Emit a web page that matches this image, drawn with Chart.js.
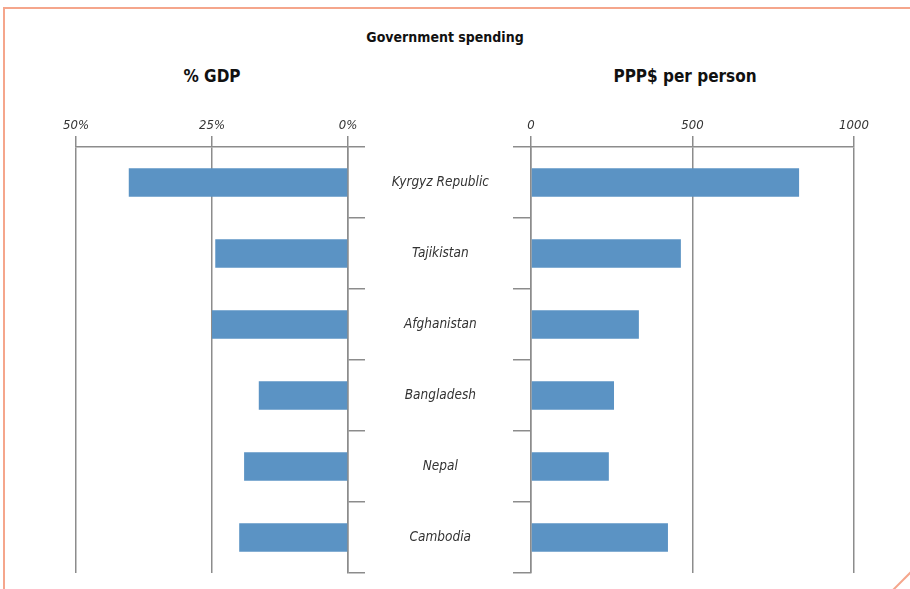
<!DOCTYPE html>
<html>
<head>
<meta charset="utf-8">
<script src="https://cdn.jsdelivr.net/npm/chart.js@4"></script>
<style>
  body { margin: 0; background: #fff; width: 910px; height: 589px; overflow: hidden; position: relative; }
  .frame { position: absolute; left: 3px; top: 7px; width: 920px; height: 600px;
           border-left: 2px solid #f5a68c; border-top: 2px solid #f5a68c; }
  .corner { position: absolute; left: 889px; top: 580px; width: 26px; height: 2px;
            background: #f5a68c; transform: rotate(-45deg); }
  .title { position: absolute; font-family: "DejaVu Sans Condensed", "DejaVu Sans", sans-serif;
           font-weight: bold; color: #111; transform: translateX(-50%); white-space: nowrap; }
  canvas { position: absolute; top: 0; }
</style>
</head>
<body>
<div class="frame"></div>
<div class="corner"></div>
<div class="title" style="left:445px; top:29px; font-size:14px;">Government spending</div>
<div class="title" style="left:212px; top:66px; font-size:17px;">% GDP</div>
<div class="title" style="left:685px; top:66px; font-size:17px;">PPP$ per person</div>
<div style="position:absolute; left:0; top:0; width:400px; height:589px;"><canvas id="gdpChart"></canvas></div>
<div style="position:absolute; left:370px; top:0; width:540px; height:589px;"><canvas id="pppChart"></canvas></div>
<script>
/* ========== DATA ========== */
const countries = ["Kyrgyz Republic", "Tajikistan", "Afghanistan", "Bangladesh", "Nepal", "Cambodia"];
const gdpShare = [40.3, 24.4, 25.0, 16.4, 19.1, 20.0];        // % of GDP
const pppPerPerson = [830, 464, 334, 257, 241, 424];          // PPP$ per person
const gdpTicks = [0, 25, 50];
const pppTicks = [0, 500, 1000];

const FONT = "'DejaVu Sans Condensed', 'DejaVu Sans', sans-serif";
const GRID = "#8c8c8c";
const BAR = "#5b93c4";

/* ====== LEFT: % GDP (reversed) ====== */
new Chart(document.getElementById("gdpChart"), {
    type: "bar",
    data: {
        labels: countries,
        datasets: [{ data: gdpShare, backgroundColor: BAR, barPercentage: 0.4, categoryPercentage: 1 }]
    },
    options: {
        indexAxis: "y",
        responsive: true,
        maintainAspectRatio: false,
        animation: false,
        layout: { padding: { left: 76, right: 35, top: 0, bottom: 16 } },
        plugins: { legend: { display: false }, tooltip: { enabled: false } },
        scales: {
            x: {
                position: "top",
                reverse: true,
                min: 0, max: 50,
                afterBuildTicks: s => { s.ticks = gdpTicks.map(v => ({ value: v })); },
                afterFit: s => { s.height = 147; },
                ticks: { callback: v => v + "%", color: "#333", padding: 3,
                         font: { family: FONT, size: 13, style: "italic" } },
                grid: { color: GRID, lineWidth: 1.5, tickLength: 11 },
                border: { color: GRID, width: 1.5 }
            },
            y: {
                position: "right",
                afterFit: s => { s.paddingTop = 0; s.paddingBottom = 0; },
                ticks: { display: false },
                grid: { drawOnChartArea: false, color: GRID, lineWidth: 1.5, tickLength: 17 },
                border: { color: GRID, width: 1.5 }
            }
        }
    }
});

/* ====== RIGHT: PPP$ per person ====== */
new Chart(document.getElementById("pppChart"), {
    type: "bar",
    data: {
        labels: countries,
        datasets: [{ data: pppPerPerson, backgroundColor: BAR, barPercentage: 0.4, categoryPercentage: 1 }]
    },
    options: {
        indexAxis: "y",
        responsive: true,
        maintainAspectRatio: false,
        animation: false,
        layout: { padding: { left: 0, right: 56, top: 0, bottom: 16 } },
        plugins: { legend: { display: false }, tooltip: { enabled: false } },
        scales: {
            x: {
                position: "top",
                min: 0, max: 1000,
                afterBuildTicks: s => { s.ticks = pppTicks.map(v => ({ value: v })); },
                afterFit: s => { s.height = 147; },
                ticks: { callback: v => String(v), color: "#333", padding: 3,
                         font: { family: FONT, size: 13, style: "italic" } },
                grid: { color: GRID, lineWidth: 1.5, tickLength: 11 },
                border: { color: GRID, width: 1.5 }
            },
            y: {
                position: "left",
                afterFit: s => { s.width = 161; s.paddingTop = 0; s.paddingBottom = 0; },
                ticks: { crossAlign: "center", padding: 24, color: "#333",
                         font: { family: FONT, size: 13.5, style: "italic" } },
                grid: { drawOnChartArea: false, color: GRID, lineWidth: 1.5, tickLength: 18 },
                border: { color: GRID, width: 1.5 }
            }
        }
    }
});
</script>
</body>
</html>
